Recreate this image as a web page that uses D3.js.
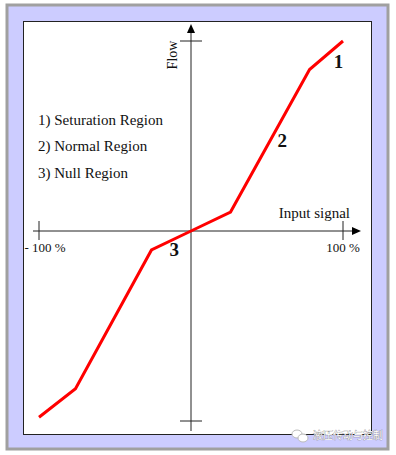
<!DOCTYPE html>
<html>
<head>
<meta charset="utf-8">
<script src="https://cdn.jsdelivr.net/npm/d3@7"></script>
<style>
  body { margin: 0; background: #fff; }
  svg text { font-family: "Liberation Serif", "DejaVu Serif", serif; }
</style>
</head>
<body>
<div id="chart"></div>
<script>
// Input signal (%) vs flow (%) break points of the valve curve
const inputSignal = [-100, -76, -26, 0, 26, 78, 100];
const flowValues  = [-98, -83, -10, 0, 10, 85, 100];

// Axis end labels and region legend
const xTickValues = [-100, 100];
const xTickLabels = ["- 100 %", "100 %"];
const yTickValues = [-100, 100];
const regionLabels = ["1) Seturation Region", "2) Normal Region", "3) Null Region"];

// Region markers placed next to the curve (in data units)
const regionMarks = [
    { label: "1", x: 97, y: 86 },
    { label: "2", x: 60, y: 44 },
    { label: "3", x: -11, y: -13 }
];

const width = 396, height = 455;

const svg = d3.select('#chart')
    .append('svg')
    .attr('width', width)
    .attr('height', height);

// Outer frame: grey border, lavender fill, white panel
svg.append('rect')
    .attr('x', 7).attr('y', 5)
    .attr('width', 381).attr('height', 444)
    .attr('fill', '#ccccff')
    .attr('stroke', '#a0a0a0')
    .attr('stroke-width', 3);

svg.append('rect')
    .attr('x', 23.5).attr('y', 21.5)
    .attr('width', 348).attr('height', 413)
    .attr('fill', '#fff')
    .attr('stroke', '#222')
    .attr('stroke-width', 1);

// Scales
const x = d3.scaleLinear().domain([-100, 100]).range([39, 343]);
const y = d3.scaleLinear().domain([-100, 100]).range([421, 41]);

const axisColor = '#222';

// Horizontal axis
svg.append('line')
    .attr('x1', 33).attr('x2', 354)
    .attr('y1', y(0)).attr('y2', y(0))
    .attr('stroke', axisColor).attr('stroke-width', 1);
svg.append('path')
    .attr('d', `M361,${y(0)} L352,${y(0) - 4} L352,${y(0) + 4} Z`)
    .attr('fill', '#000');

// Vertical axis
svg.append('line')
    .attr('x1', x(0)).attr('x2', x(0))
    .attr('y1', 32).attr('y2', 431)
    .attr('stroke', axisColor).attr('stroke-width', 1);
svg.append('path')
    .attr('d', `M${x(0)},24 L${x(0) - 4},33 L${x(0) + 4},33 Z`)
    .attr('fill', '#000');

// Ticks at +-100 %
svg.selectAll('.xtick')
    .data(xTickValues)
    .enter()
    .append('line')
    .attr('class', 'xtick')
    .attr('x1', d => x(d)).attr('x2', d => x(d))
    .attr('y1', y(0) - 10).attr('y2', y(0) + 9)
    .attr('stroke', axisColor).attr('stroke-width', 1);

svg.selectAll('.ytick')
    .data(yTickValues)
    .enter()
    .append('line')
    .attr('class', 'ytick')
    .attr('y1', d => y(d)).attr('y2', d => y(d))
    .attr('x1', x(0) - 11).attr('x2', x(0) + 11)
    .attr('stroke', axisColor).attr('stroke-width', 1);

svg.selectAll('.xlabel')
    .data(xTickValues)
    .enter()
    .append('text')
    .attr('class', 'xlabel')
    .attr('x', d => x(d) + (d < 0 ? 6 : 0))
    .attr('y', 252)
    .attr('text-anchor', 'middle')
    .style('font-size', '13px')
    .style('fill', '#111')
    .text((d, i) => xTickLabels[i]);

// Axis titles
svg.append('text')
    .attr('x', 350)
    .attr('y', 218)
    .attr('text-anchor', 'end')
    .style('font-size', '15px')
    .style('fill', '#111')
    .text('Input signal');

svg.append('text')
    .attr('transform', `translate(177,55) rotate(-90)`)
    .attr('text-anchor', 'middle')
    .style('font-size', '14px')
    .style('fill', '#111')
    .text('Flow');

// Curve
const points = inputSignal.map((v, i) => [v, flowValues[i]]);
svg.append('path')
    .datum(points)
    .attr('d', d3.line().x(d => x(d[0])).y(d => y(d[1])))
    .attr('fill', 'none')
    .attr('stroke', '#ff0000')
    .attr('stroke-width', 3);

// Region numbers
svg.selectAll('.mark')
    .data(regionMarks)
    .enter()
    .append('text')
    .attr('class', 'mark')
    .attr('x', d => x(d.x))
    .attr('y', d => y(d.y))
    .attr('text-anchor', 'middle')
    .style('font-size', '19px')
    .style('font-weight', 'bold')
    .style('fill', '#111')
    .text(d => d.label);

// Legend
svg.selectAll('.legend')
    .data(regionLabels)
    .enter()
    .append('text')
    .attr('class', 'legend')
    .attr('x', 38)
    .attr('y', (d, i) => [125, 151, 178][i])
    .style('font-size', '15px')
    .style('fill', '#111')
    .text(d => d);

// Watermark
const wm = svg.append('g').attr('transform', 'translate(297,437)');
wm.append('ellipse').attr('cx', 0).attr('cy', -3).attr('rx', 5).attr('ry', 4)
    .attr('fill', '#fff').attr('stroke', '#bbb');
wm.append('ellipse').attr('cx', 6).attr('cy', 1).attr('rx', 5).attr('ry', 4)
    .attr('fill', '#fff').attr('stroke', '#bbb');
wm.append('text')
    .attr('x', 16).attr('y', 2)
    .style('font-family', '"Noto Sans CJK SC", sans-serif')
    .style('font-size', '10px')
    .style('fill', '#fff')
    .style('stroke', '#888')
    .style('stroke-width', 0.6)
    .style('paint-order', 'stroke')
    .text('液压传动与控制');
</script>
</body>
</html>
